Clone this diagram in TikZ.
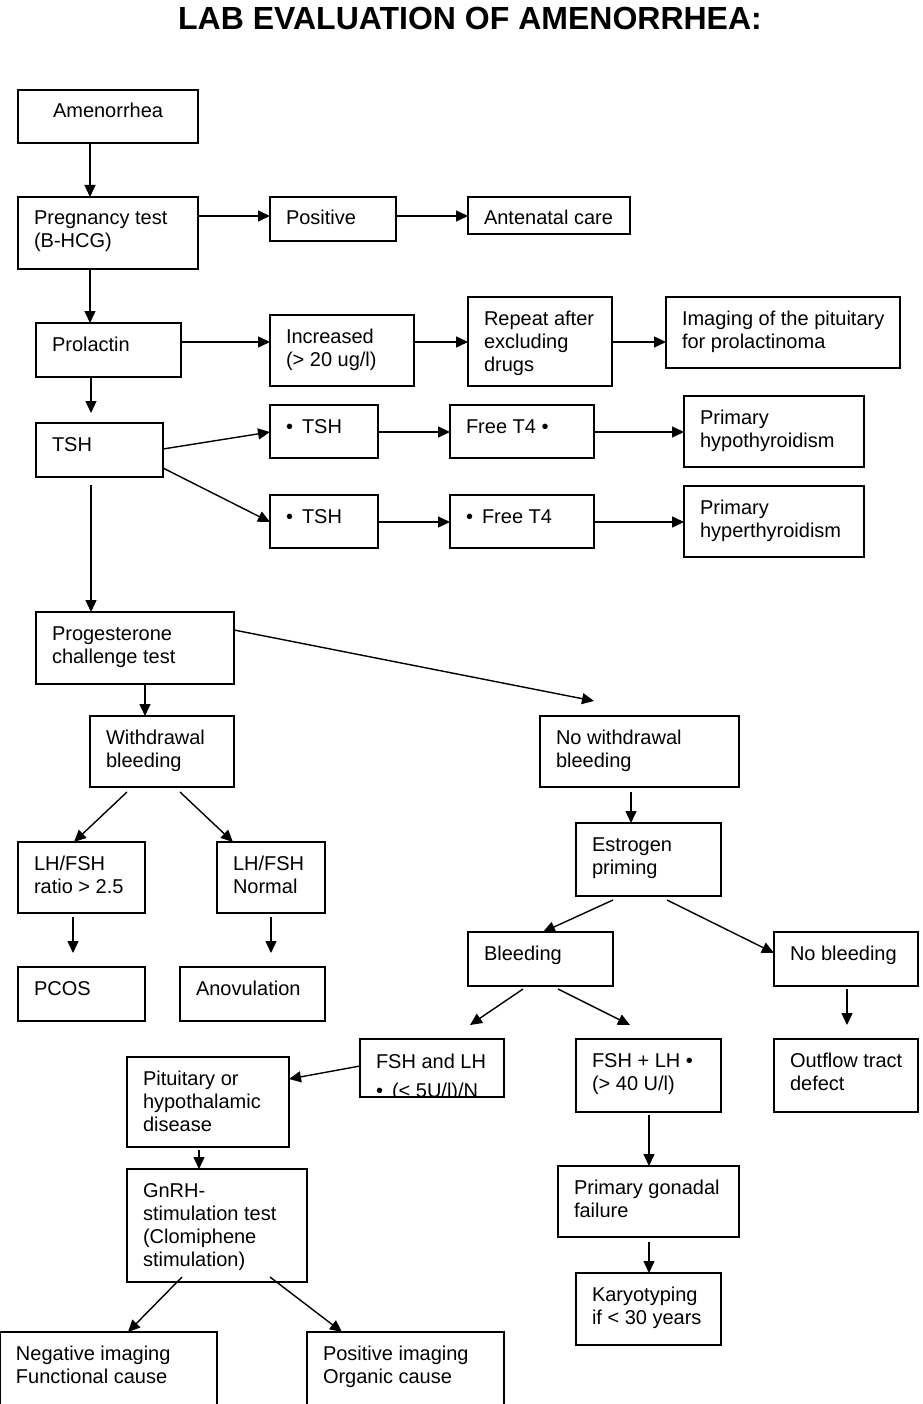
\documentclass[tikz,border=0pt]{standalone}
\usepackage{fontspec}
\setmainfont{Liberation Sans}
\usetikzlibrary{arrows.meta}

\tikzset{
  fbox/.style={draw=black, rectangle, anchor=north west, inner sep=0pt, outer sep=0pt, line width=1.2pt},
  ftxt/.style={anchor=north west, inner sep=0pt, outer sep=0pt, align=left, font=\fontsize{20}{23}\selectfont},
  arr/.style={line width=1.4pt, -{Triangle[length=12pt,width=11pt]}},
  ttl/.style={anchor=base, inner sep=0pt, font=\fontsize{32}{36}\selectfont\bfseries}
}

% box: name, left, top, right, bottom, text (pixel-style coordinates, y downwards)
\newcommand\fbx[6]{%
  \node[fbox, minimum width={(#4)-(#2)}, minimum height={(#5)-(#3)}] (#1) at (#2,#3) {};
  \node[ftxt] (#1-t) at ([shift={(16,12)}]#1.north west) {\rule{0pt}{16pt}#6};
}
% connector: from node A (offset from its north-west corner) to node B (offset)
\newcommand\conn[4]{%
  \draw[arr] ([shift={(#2)}]#1.north west) -- ([shift={(#4)}]#3.north west);
}

\begin{document}
\begin{tikzpicture}[x=1pt, y=-1pt]
\useasboundingbox (0,0) rectangle (922,1404);

\node[ttl] (title) at (470,30) {LAB EVALUATION OF AMENORRHEA:};

\node[fbox, minimum width=180pt, minimum height=53pt] (amen) at (18,90) {};
\node[ftxt] (amen-t) at ([shift={(35,12)}]amen.north west) {\rule{0pt}{16pt}Amenorrhea};
\fbx{preg}{18}{197}{198}{269}{Pregnancy test\\(B-HCG)}
\fbx{pos}{270}{197}{396}{241}{Positive}
\fbx{ante}{468}{197}{630}{234}{Antenatal care}
\fbx{prol}{36}{323}{181}{377}{Prolactin}
\fbx{inc}{270}{315}{414}{386}{Increased\\(> 20 ug/l)}
\fbx{rep}{468}{297}{612}{386}{Repeat after\\excluding\\drugs}
\fbx{img}{666}{297}{900}{368}{Imaging of the pituitary\\for prolactinoma}
\fbx{tsh}{36}{423}{163}{477}{TSH}
\fbx{tsha}{270}{405}{378}{458}{•\hspace{9pt}TSH}
\fbx{fta}{450}{405}{594}{458}{Free T4 •}
\fbx{hypo}{684}{396}{864}{467}{Primary\\hypothyroidism}
\fbx{tshb}{270}{495}{378}{548}{•\hspace{9pt}TSH}
\fbx{ftb}{450}{495}{594}{548}{•\hspace{9pt}Free T4}
\fbx{hyper}{684}{486}{864}{557}{Primary\\hyperthyroidism}
\fbx{prog}{36}{612}{234}{684}{Progesterone\\challenge test}
\fbx{wb}{90}{716}{234}{787}{Withdrawal\\bleeding}
\fbx{nwb}{540}{716}{739}{787}{No withdrawal\\bleeding}
\fbx{ratio}{18}{842}{145}{913}{LH/FSH\\ratio > 2.5}
\fbx{norm}{217}{842}{325}{913}{LH/FSH\\Normal}
\fbx{pcos}{18}{967}{145}{1021}{PCOS}
\fbx{anov}{180}{967}{325}{1021}{Anovulation}
\fbx{estr}{576}{823}{721}{896}{Estrogen\\priming}
\fbx{bleed}{468}{932}{613}{986}{Bleeding}
\fbx{nobl}{774}{932}{918}{986}{No bleeding}

% low gonadotropins box: its second line runs past the frame and is cut off
\node[fbox, minimum width=144pt, minimum height=58pt] (fshlo) at (360,1039) {};
\begin{scope}
  \clip (fshlo.north west) rectangle (fshlo.south east);
  \node[ftxt] (fshlo-t) at ([shift={(16,13)}]fshlo.north west) {\rule{0pt}{16pt}FSH and LH\\[6pt]•\hspace{9pt}(< 5U/l)/N};
\end{scope}

\fbx{fshhi}{576}{1039}{721}{1112}{FSH + LH •\\(> 40 U/l)}
\fbx{outf}{774}{1039}{918}{1112}{Outflow tract\\defect}
\fbx{pit}{127}{1057}{289}{1147}{Pituitary or\\hypothalamic\\disease}
\fbx{gnrh}{127}{1169}{307}{1282}{GnRH-\\stimulation test\\(Clomiphene\\stimulation)}
\fbx{gon}{558}{1166}{739}{1237}{Primary gonadal\\failure}
\fbx{kary}{576}{1273}{721}{1345}{Karyotyping\\if < 30 years}
\fbx{neg}{0}{1332}{217}{1407}{Negative imaging\\Functional cause}
\fbx{posi}{307}{1332}{504}{1407}{Positive imaging\\Organic cause}

% connectors
\conn{amen}{72,53}{preg}{72,0}
\conn{preg}{180,19}{pos}{0,19}
\conn{pos}{126,19}{ante}{0,19}
\conn{preg}{72,72}{prol}{54,0}
\conn{prol}{145,19}{inc}{0,27}
\conn{inc}{144,27}{rep}{0,45}
\conn{rep}{144,45}{img}{0,45}
\conn{prol}{55,54}{tsh}{55,-10}
\conn{tsh}{127,26}{tsha}{0,27}
\conn{tsh}{127,45}{tshb}{0,27}
\conn{tsha}{108,27}{fta}{0,27}
\conn{fta}{144,27}{hypo}{0,36}
\conn{tshb}{108,27}{ftb}{0,27}
\conn{ftb}{144,27}{hyper}{0,36}
\conn{tsh}{55,62}{prog}{55,0}
\conn{prog}{198,18}{nwb}{54,-15}
\conn{prog}{109,72}{wb}{55,0}
\conn{wb}{37,76}{ratio}{56,0}
\conn{wb}{90,76}{norm}{16,0}
\conn{ratio}{55,75}{pcos}{55,-14}
\conn{norm}{54,75}{anov}{91,-14}
\conn{nwb}{91,76}{estr}{55,0}
\conn{estr}{37,77}{bleed}{75,0}
\conn{estr}{91,77}{nobl}{0,21}
\conn{bleed}{55,57}{fshlo}{110,-14}
\conn{bleed}{90,57}{fshhi}{54,-14}
\conn{nobl}{73,57}{outf}{73,-14}
\conn{fshlo}{0,27}{pit}{162,22}
\conn{pit}{72,93}{gnrh}{72,0}
\conn{fshhi}{73,76}{gon}{91,0}
\conn{gon}{91,76}{kary}{73,0}
\conn{gnrh}{55,108}{neg}{128,0}
\conn{gnrh}{143,108}{posi}{35,0}
\end{tikzpicture}
\end{document}
